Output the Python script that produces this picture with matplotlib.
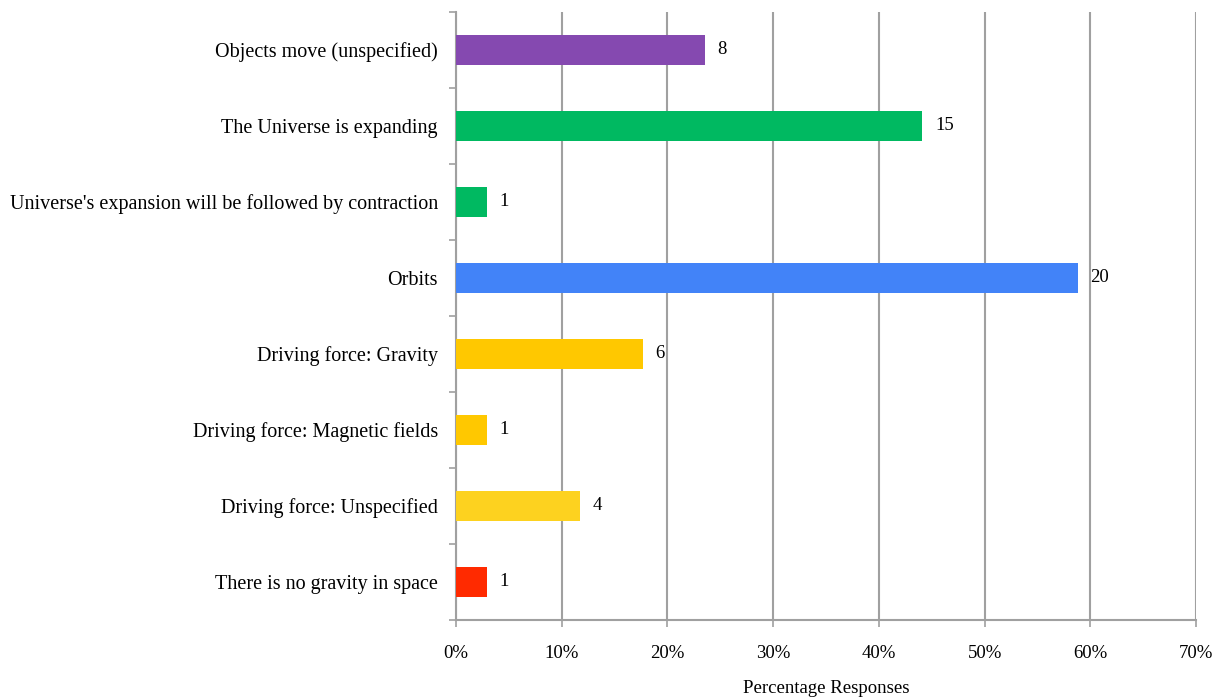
import matplotlib.pyplot as plt
import numpy as np

plt.rcParams['font.family'] = ['Liberation Serif', 'DejaVu Serif']

categories = [
    "Objects move (unspecified)",
    "The Universe is expanding",
    "Universe's expansion will be followed by contraction",
    "Orbits",
    "Driving force: Gravity",
    "Driving force: Magnetic fields",
    "Driving force: Unspecified",
    "There is no gravity in space",
]
counts = [8, 15, 1, 20, 6, 1, 4, 1]
total = 34
colors = ["#8549B0", "#00B961", "#00B961", "#4283F8",
          "#FFC800", "#FFC800", "#FDD21F", "#FF2A00"]

pct = [c / total * 100 for c in counts]

fig = plt.figure(figsize=(12.15, 7), dpi=100)
ax = fig.add_axes([0.3753, 0.1143, 0.6091, 0.8687])

y = np.arange(len(categories))
ax.barh(y, pct, height=0.4, color=colors, zorder=3)
for yi, p, c in zip(y, pct, counts):
    ax.annotate(str(c), (p, yi), xytext=(9, 0), textcoords='offset points',
                va='center', ha='left', fontsize=13.5, zorder=4)

ax.set_xlim(0, 70)
ax.set_ylim(len(categories) - 0.5, -0.5)
ax.set_xticks(np.arange(0, 71, 10))
ax.set_xticklabels([f"{v}%" for v in range(0, 71, 10)], fontsize=13.5)
ax.set_yticks(y)
ax.set_yticklabels(categories, fontsize=14.5)
ax.set_yticks(np.arange(-0.5, len(categories), 1), minor=True)
ax.tick_params(axis='y', which='major', length=0, pad=13)
ax.tick_params(axis='y', which='minor', length=5, color='#A0A0A0', width=1.2)
ax.tick_params(axis='x', length=5, color='#A0A0A0', width=1.2, pad=13)

ax.xaxis.grid(True, color='#A0A0A0', linewidth=1.5, zorder=0)
for s in ['top', 'right']:
    ax.spines[s].set_visible(False)
for s in ['left', 'bottom']:
    ax.spines[s].set_color('#A0A0A0')
    ax.spines[s].set_linewidth(1.5)

ax.set_xlabel("Percentage Responses", fontsize=13.5, labelpad=13)

fig.savefig("out.png", dpi=100)
